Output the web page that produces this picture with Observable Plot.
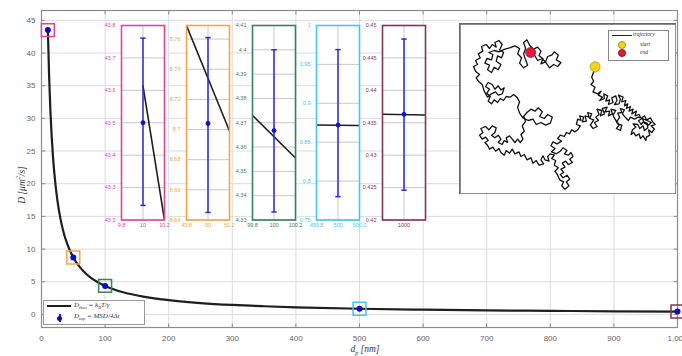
<!DOCTYPE html>
<html><head><meta charset="utf-8">
<script src="https://cdn.jsdelivr.net/npm/d3@7"></script>
<script src="https://cdn.jsdelivr.net/npm/@observablehq/plot@0.6"></script>
<style>
body{margin:0;background:#fff;}
#wrap{position:relative;width:682px;height:356px;overflow:hidden;font-family:"Liberation Sans",Arial,sans-serif;background:#fff;}
#wrap svg{position:absolute;}
.abs{position:absolute;white-space:nowrap;}
.ser{font-family:"Liberation Serif","DejaVu Serif",serif;font-style:italic;color:#333;}
</style></head><body><div id="wrap"></div><script>
// ---- data ----
const curveD   = [10, 12, 14, 16, 18, 20, 25, 30, 35, 40, 50, 60, 70, 80, 90, 100, 120, 140, 160, 180, 200, 250, 300, 350, 400, 500, 600, 700, 800, 900, 1000];
const curveVal = [43.61, 36.35, 31.15, 27.26, 24.23, 21.81, 17.45, 14.54, 12.46, 10.90, 8.72, 7.27, 6.23, 5.45, 4.85, 4.36, 3.63, 3.12, 2.73, 2.42, 2.18, 1.74, 1.45, 1.25, 1.09, 0.87, 0.73, 0.62, 0.55, 0.48, 0.44];
const expD   = [10, 50, 100, 500, 1000];
const expVal = [43.50, 8.704, 4.3668, 0.872, 0.4363];
const expLo  = [43.245, 8.645, 4.3333, 0.780, 0.4246];
const expHi  = [43.761, 8.761, 4.400, 0.969, 0.4479];
const xTicks = [0, 100, 200, 300, 400, 500, 600, 700, 800, 900, 1000];
const yTicks = [0, 5, 10, 15, 20, 25, 30, 35, 40, 45];
const insetColors  = ["#e2449c", "#f5a545", "#3b7f5e", "#45c6ee", "#843457"];
const insetXDomain = [[9.8, 10.2], [49.8, 50.2], [99.8, 100.2], [499.8, 500.2], [999.8, 1000.2]];
const insetXTicks  = [[9.8, 10, 10.2], [49.8, 50, 50.2], [99.8, 100, 100.2], [499.8, 500, 500.2], [1000]];
const insetYDomain = [[43.2, 43.8], [8.64, 8.769], [4.33, 4.41], [0.75, 1], [0.42, 0.45]];
const insetYTicks  = [
  [43.2, 43.3, 43.4, 43.5, 43.6, 43.7, 43.8],
  [8.64, 8.66, 8.68, 8.7, 8.72, 8.74, 8.76],
  [4.33, 4.34, 4.35, 4.36, 4.37, 4.38, 4.39, 4.4, 4.41],
  [0.75, 0.8, 0.85, 0.9, 0.95, 1],
  [0.42, 0.425, 0.43, 0.435, 0.44, 0.445, 0.45]
];
const insetLineX = [[10, 10.2], [49.8, 50.2], [99.8, 100.2], [499.8, 500.2], [999.8, 1000.2]];
const insetLineY = [[43.614, 43.2], [8.769, 8.699], [4.373, 4.3555], [0.8722, 0.8715], [0.4363, 0.4362]];
const trajPts = [
 [418,145],[414,160],[408,176],[414,188],[406,198],[418,206],[412,220],[426,226],
 [436,218],[428,230],[440,236],[432,246],[446,240],[444,226],[456,232],[450,248],[462,244],[458,258],[472,252],[468,238],[480,232],[484,246],[476,258],[490,256],[494,242],[488,230],[502,236],[498,250],[510,246],[506,262],[516,256],[512,270],
 [524,264],[520,278],[532,272],[528,286],[542,278],[538,292],[550,288],[556,300],[566,292],[572,304],[584,298],[590,310],[598,318],[586,322],[596,332],[588,342],[578,334],[582,350],[572,356],[570,366],[562,352],[554,360],[550,346],[540,352],[534,342],[526,348],[530,334],[540,326],[532,316],[546,318],[552,330],[562,322],[566,336],[576,328],[574,314],[562,310],[556,318],[548,306],[560,300],[566,314],[578,320],[586,312],[574,306],[548,296],[536,302],[524,296],[518,306],[510,298],
 [500,286],[506,274],[494,270],[498,282],[486,284],[492,296],[484,308],[490,320],[482,330],[494,336],[498,320],[486,316],[478,302],[472,290],[480,276],[466,272],[470,286],[458,292],[462,278],[448,280],[454,266],[440,270],[446,286],[434,292],[438,276],[424,272],[430,288],[420,296],[428,306],[416,312],[424,324],[412,330],[404,320],[414,304],[402,300],[408,286],[396,282],[400,296],[388,292],[392,308],[380,310],[384,296],[372,292],[376,306],[366,302],[362,318],[374,322],[366,334],[358,340],
 [348,334],[342,346],[332,342],[326,354],[314,350],[306,360],[318,368],[304,376],[292,370],[286,382],[298,390],[288,400],[302,406],[314,398],[322,388],[334,396],[326,406],[338,410],[346,402],[352,414],[342,422],[350,432],[338,438],[330,428],[320,434],[328,446],[316,452],[324,462],[314,468],[322,478],[334,470],[342,482],[332,490],[340,502],[328,512],[318,502],[324,490],[312,484],[306,470],[298,458],[308,448],[296,440],[300,426],[288,420],[296,410],[284,406],[276,414],[280,428],[268,424],[262,412],[256,424],[264,436],[250,440],[242,426],[232,434],[226,418],[214,424],[206,408],[196,414],[190,400],[178,406],
 [170,392],[162,404],[152,396],[146,410],[136,402],[130,390],[120,398],[112,386],[102,392],[96,380],[88,372],[98,366],[90,356],[80,362],[72,350],[82,342],[76,330],[90,324],[100,334],[110,322],[122,328],[118,342],[108,350],[118,358],[128,350],[136,362],[128,372],[140,378],[146,366],[156,372],[152,358],[162,352],[170,362],[178,372],[186,362],[194,372],[202,362],[196,348],[206,338],[200,322],[210,308],[204,294],[214,282],[226,272],[238,278],[248,268],[260,280],[252,294],[266,300],[276,288],[290,296],[284,314],[270,320],[256,312],[242,318],[232,302],[218,306],[202,298],
 [192,284],[186,266],[192,250],[184,236],[174,228],[164,236],[152,234],[144,246],[134,240],[126,252],[116,244],[108,256],[98,248],[104,234],[94,224],[102,212],[90,204],[98,192],[110,198],[118,212],[128,202],[136,214],[146,208],[140,226],[128,230],[120,220],[108,226],[96,236],[86,218],[80,198],[70,190],[62,178],[72,168],[60,158],[54,144],[66,138],[60,126],[74,118],[68,106],[82,98],[78,84],[92,78],[102,90],[110,78],[122,86],[118,72],[130,66],[140,78],[132,94],[144,102],[138,118],[126,112],[122,128],[136,138],[128,154],[116,146],[108,162],[96,154],[102,140],[88,134],[94,120],[108,124],[112,108],[100,102],[116,96],[130,100],[148,92],
 [162,88],[178,82],[192,90],[186,106],[198,118],[192,134],[204,148],[216,140],[210,124],[204,106],[210,90],[204,72],[214,64],[222,80],[234,92],[246,86],[256,98],[250,112],[262,120],[256,136],[270,130],[276,114],[288,110],[296,100],[308,110],[302,124],[316,132],[306,144],[294,138],[282,148],[272,134],[260,120],[246,126],[238,112],[225,102]
];
const trajStart = [418, 145];
const trajEnd = [225, 102];

// ---- build ----
const wrap = document.getElementById("wrap");
const curve = curveD.map((d, i) => ({d, D: curveVal[i]}));
const exp = expD.map((d, i) => ({d, D: expVal[i], lo: expLo[i], hi: expHi[i], c: insetColors[i]}));
const fmt = v => String(+v.toFixed(4));
const gridCol = "#dcdcdc", axCol = "#8c8c8c", blue = "#1a1ae6";

const main = Plot.plot({
  width: 682, height: 356, marginLeft: 41, marginRight: 5, marginTop: 10, marginBottom: 29,
  style: {background: "transparent", fontFamily: "Liberation Sans, Arial, sans-serif", fontSize: "8px", color: "#666", overflow: "hidden"},
  x: {domain: [0, 1000], ticks: xTicks, tickSize: 0, tickPadding: 8, label: null},
  y: {domain: [-2, 46.5], ticks: yTicks, tickSize: 0, tickPadding: 6, label: null},
  color: {type: "identity"},
  marks: [
    Plot.ruleX(xTicks, {stroke: gridCol}),
    Plot.ruleY(yTicks, {stroke: gridCol}),
    Plot.link(xTicks, {x1: d => d, x2: d => d, y1: -2, y2: -1.4, stroke: axCol}),
    Plot.link(xTicks, {x1: d => d, x2: d => d, y1: 46.5, y2: 45.9, stroke: axCol}),
    Plot.link(yTicks, {y1: d => d, y2: d => d, x1: 0, x2: 6, stroke: axCol}),
    Plot.link(yTicks, {y1: d => d, y2: d => d, x1: 1000, x2: 994, stroke: axCol}),
    Plot.frame({stroke: axCol, strokeWidth: 1.2}),
    Plot.line(curve, {x: "d", y: "D", stroke: "#1e1e1e", strokeWidth: 2.2, curve: "monotone-x"}),
    Plot.dot(exp, {x: "d", y: "D", symbol: "square", r: 7.3, stroke: "c", strokeWidth: 1.5, fill: "none"}),
    Plot.ruleX(exp, {x: "d", y1: "lo", y2: "hi", stroke: blue, strokeWidth: 2}),
    Plot.dot(exp, {x: "d", y: "D", r: 3, fill: "#0c0cc8"})
  ]
});
main.style.left = "0px"; main.style.top = "0px";
wrap.appendChild(main);

// insets
const insetLeft = [121, 186, 251.5, 315.5, 382];
const fTop = 24.5, fw = 43, fh = 194.5, ml = 25, mr = 10, mt = 2, mb = 10;
insetColors.forEach((col, i) => {
  const e = exp[i];
  const line = insetLineX[i].map((x, j) => ({x, y: insetLineY[i][j]}));
  const capW = 0.025;
  const svg = Plot.plot({
    width: ml + fw + mr, height: mt + fh + mb, marginLeft: ml, marginRight: mr, marginTop: mt, marginBottom: mb,
    style: {background: "transparent", fontFamily: "Liberation Sans, Arial, sans-serif", fontSize: "5.5px", color: col, overflow: "visible"},
    x: {domain: insetXDomain[i], ticks: insetXTicks[i], tickSize: 0, tickPadding: 3, tickFormat: fmt, label: null},
    y: {domain: insetYDomain[i], ticks: insetYTicks[i], tickSize: 0, tickPadding: 6, tickFormat: fmt, label: null},
    marks: [
      Plot.frame({fill: "white", stroke: "none"}),
      Plot.ruleX(insetXTicks[i], {stroke: "#c8c8c8"}),
      Plot.ruleY(insetYTicks[i], {stroke: "#c8c8c8"}),
      Plot.line(line, {x: "x", y: "y", stroke: "#1e1e1e", strokeWidth: 1.6, clip: true}),
      Plot.ruleX([e], {x: "d", y1: "lo", y2: "hi", stroke: "#2a2ae8", strokeWidth: 1.5}),
      Plot.link([e.lo, e.hi], {x1: e.d - capW, x2: e.d + capW, y1: v => v, y2: v => v, stroke: "#2a2ae8", strokeWidth: 1.5}),
      Plot.dot([e], {x: "d", y: "D", r: 2.4, fill: "#1010d8"}),
      Plot.frame({stroke: col, strokeWidth: 1.6})
    ]
  });
  svg.style.left = (insetLeft[i] - ml) + "px";
  svg.style.top = (fTop - mt) + "px";
  wrap.appendChild(svg);
});

// trajectory panel
const tp = Plot.plot({
  width: 217, height: 171, margin: 0,
  style: {background: "white"},
  x: {domain: [12, 662], axis: null},
  y: {domain: [15, 528], reverse: true, axis: null},
  marks: [
    Plot.line(trajPts, {x: d => d[0], y: d => d[1], stroke: "#111", strokeWidth: 1.3, strokeLinejoin: "round"}),
    Plot.dot([trajStart], {x: d => d[0], y: d => d[1], r: 5, fill: "#f2d21c", stroke: "#b49a10", strokeWidth: 0.8}),
    Plot.dot([trajEnd], {x: d => d[0], y: d => d[1], r: 5, fill: "#e41a3c", stroke: "#a01028", strokeWidth: 0.8}),
    Plot.frame({stroke: "#6a6a6a", strokeWidth: 2.5})
  ]
});
tp.style.left = "459px"; tp.style.top = "23px";
wrap.appendChild(tp);

// html text overlays
function add(html, css, cls) {
  const d = document.createElement("div");
  d.className = "abs " + (cls || "");
  d.style.cssText += css;
  d.innerHTML = html;
  wrap.appendChild(d);
  return d;
}
// axis labels
add("D [<span>μm</span><sup style='font-size:6px'>2</sup>/s]", "left:21px;top:185px;font-size:9.5px;transform:translate(-50%,-50%) rotate(-90deg);", "ser");
add("d<sub style='font-size:6px'>p</sub> [nm]", "left:365px;top:350px;font-size:9.5px;transform:translate(-50%,-50%);", "ser");

// main legend
add("", "left:43px;top:300px;width:100px;height:23px;border:1px solid #999;background:#fff;");
add("", "left:47px;top:305px;width:24px;height:0;border-top:2px solid #1e1e1e;");
add("D<sub style='font-size:4.5px'>theo</sub> = k<sub style='font-size:4.5px'>B</sub>T/γ", "left:74px;top:301px;font-size:7px;line-height:9px;", "ser");
add("", "left:58.5px;top:314px;width:2px;height:8px;background:" + blue + ";");
add("", "left:57px;top:315.5px;width:5px;height:5px;border-radius:50%;background:#0c0cc8;");
add("D<sub style='font-size:4.5px'>exp</sub> = MSD/4Δt", "left:74px;top:312px;font-size:7px;line-height:9px;", "ser");

// trajectory legend
add("", "left:608px;top:30px;width:59px;height:29px;border:1px solid #888;background:#fff;");
add("", "left:612px;top:34.5px;width:20px;height:0;border-top:1px solid #222;");
add("trajectory", "left:633px;top:30.5px;font-size:5.5px;line-height:7px;", "ser");
add("", "left:618px;top:40.5px;width:6px;height:6px;border-radius:50%;background:#f2d21c;border:0.6px solid #b49a10;");
add("start", "left:640px;top:40.5px;font-size:5.5px;line-height:7px;", "ser");
add("", "left:618px;top:49px;width:6px;height:6px;border-radius:50%;background:#e41a3c;border:0.6px solid #a01028;");
add("end", "left:640px;top:49px;font-size:5.5px;line-height:7px;", "ser");
</script></body></html>
